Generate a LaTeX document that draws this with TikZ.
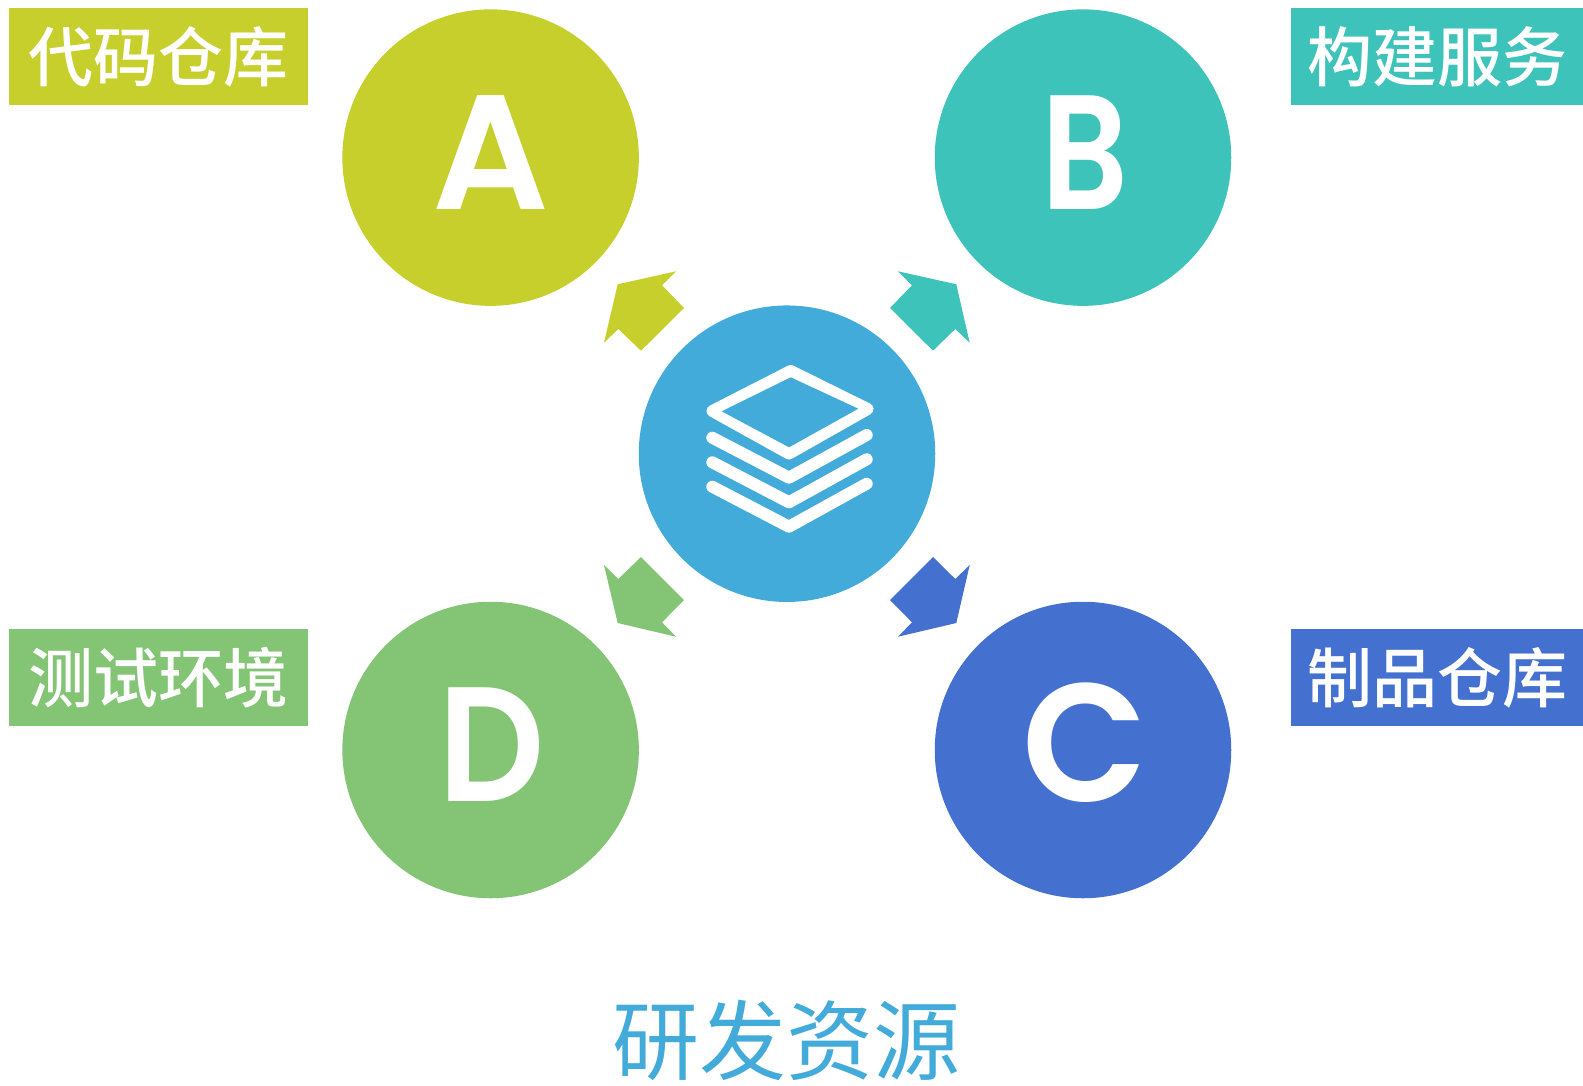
\documentclass[tikz,border=0pt]{standalone}
\usepackage{fontspec}
\usepackage{graphicx}
\newfontfamily\cjk{Noto Sans CJK SC}
\newfontfamily\cjkmed{Noto Sans CJK SC Medium}
\newfontfamily\letterfont{Poppins SemiBold}
\definecolor{cA}{HTML}{C7CF2D}
\definecolor{cB}{HTML}{3EC3BA}
\definecolor{cC}{HTML}{4470D0}
\definecolor{cD}{HTML}{84C475}
\definecolor{cM}{HTML}{43ABD9}
\tikzset{
  disc/.style={circle,inner sep=0pt,minimum size=296.5pt},
  tag/.style={rectangle,inner sep=0pt,minimum height=97pt,text=white,
    font=\cjkmed\fontsize{65}{65}\selectfont},
  tagleft/.style={tag,minimum width=298.5pt},
  tagright/.style={tag,minimum width=292pt},
  letter/.style={anchor=base,inner sep=0pt,text=white,font=\letterfont\fontsize{163}{163}\selectfont},
  iconline/.style={draw=white,line width=12pt,line cap=round,line join=round}
}
\begin{document}
\begin{tikzpicture}[x=1pt,y=-1pt]
\useasboundingbox (0,0) rectangle (1583,1085);
\fill[white] (0,0) rectangle (1583,1085);
% circles
\node[disc,fill=cA] (discA) at (490.6,157.6) {};
\node[disc,fill=cB] (discB) at (1083,157.6) {};
\node[disc,fill=cC] (discC) at (1083,750) {};
\node[disc,fill=cD] (discD) at (490.6,750) {};
\node[disc,fill=cM] (discM) at (787,453.7) {};
% letters
\node[letter] (letA) at (490.6,209) {A};
\node[letter] (letB) at (1084.7,209) {\scalebox{.83}[1]{B}};
\node[letter] (letC) at (1085,801.5) {\scalebox{1}[1.03]{C}};
\node[letter] (letD) at (491.4,801.5) {\scalebox{.91}[1]{D}};
% arrows
\fill[cA] (617.7,284.3) -- (676,271.3) -- (662,285.3) -- (684,308) -- (641,350.7) -- (618.3,329) -- (604,342.7) -- cycle;
\fill[cB] (956.3,284.3) -- (898,271.3) -- (912,285.3) -- (890,308) -- (933,350.7) -- (955.3,329) -- (969.7,342.7) -- cycle;
\fill[cD] (617.7,623) -- (676,636.7) -- (662,622.3) -- (684,600) -- (641,557) -- (618.3,579) -- (604,565) -- cycle;
\fill[cC] (956.3,623) -- (898,636.7) -- (912,622.3) -- (890,600) -- (933,557) -- (955.3,579) -- (969.7,565) -- cycle;
% icon
\filldraw[iconline,fill=white] (790.7,371) -- (867.5,409) -- (789,453.5) -- (712.5,411) -- cycle;
\fill[cM] (790.7,377.3) -- (858.3,408.7) -- (789,447.3) -- (721.7,411.3) -- cycle;
\draw[iconline] (712.3,437.7) -- (789,477.7) -- (866.7,435);
\draw[iconline] (712.3,462.3) -- (789,502.3) -- (866.7,459.3);
\draw[iconline] (712.3,486.7) -- (789,526.7) -- (866.7,483.7);
% tags
\node[tagleft,fill=cA] (tagA) at (158.3,56.5) {代码仓库};
\node[tagright,fill=cB] (tagB) at (1437,56.5) {构建服务};
\node[tagleft,fill=cD] (tagD) at (158.3,677.5) {测试环境};
\node[tagright,fill=cC] (tagC) at (1437,677.5) {制品仓库};
% title
\node[inner sep=0pt,text=cM,font=\cjk\fontsize{87}{87}\selectfont] (title) at (786,1040.5) {研发资源};
\end{tikzpicture}
\end{document}
